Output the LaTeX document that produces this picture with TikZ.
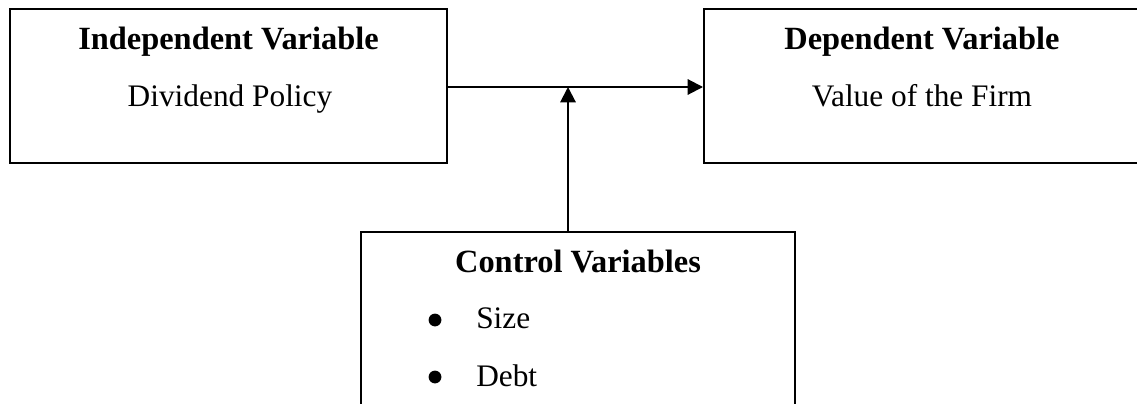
\documentclass[tikz,border=0pt]{standalone}
\usepackage{fontspec}
\setmainfont{Liberation Serif}
\usetikzlibrary{arrows.meta}
\begin{document}
\begin{tikzpicture}[x=0.75pt,y=-0.75pt,
  box/.style={draw=black,line width=1.5pt,inner sep=0pt,minimum width=#1},
  txt/.style={anchor=base,inner sep=0pt,font=\fontsize{23.5}{28}\selectfont},
  head/.style={txt,font=\fontsize{24.3}{28}\selectfont\bfseries},
  dot/.style={circle,fill=black,inner sep=0pt,minimum size=9.6pt},
  conn/.style={line width=1.5pt,-{Triangle[length=11.5pt,width=11.5pt]}}]
\clip (0,0) rectangle (1137,403);
\useasboundingbox (0,0) rectangle (1137,403);
% boxes
\node[box=327.75pt,minimum height=115.5pt] (ind) at (228.5,86) {};
\node[box=327pt,minimum height=115.5pt] (dep) at (922,86) {};
\node[box=325.5pt,minimum height=150pt] (ctl) at (578,332) {};
% texts
\node[head] (indh) at (228.5,50) {Independent Variable};
\node[txt] (indt) at (230,106) {Dividend Policy};
\node[head] (deph) at (922,50) {Dependent Variable};
\node[txt] (dept) at (922,106) {Value of the Firm};
\node[head] (ctlh) at (578,272) {Control Variables};
\node[dot] (b1) at (435,320) {};
\node[dot] (b2) at (435,377) {};
\node[txt,anchor=base west] (s1) at (476,328) {Size};
\node[txt,anchor=base west] (s2) at (476,386) {Debt};
% connectors
\coordinate (j) at (568,87);
\coordinate (jb) at (568,232);
\draw[conn] (ind.east |- j) -- (dep.west |- j);
\draw[conn] (jb) -- (j);
\end{tikzpicture}
\end{document}
